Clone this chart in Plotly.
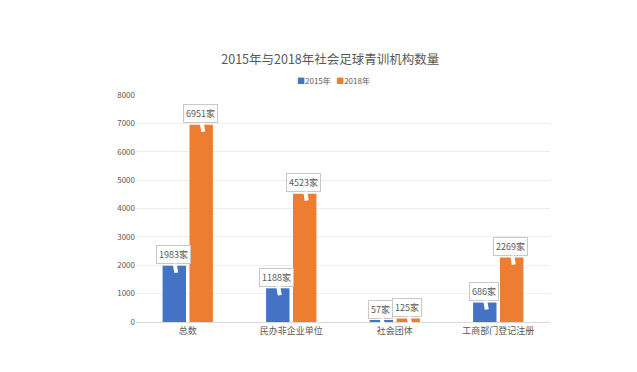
import plotly.graph_objects as go

categories = ["总数", "民办非企业单位", "社会团体", "工商部门登记注册"]
values_2015 = [1983, 1188, 57, 686]
values_2018 = [6951, 4523, 125, 2269]
series_names = ["2015年", "2018年"]
y_ticks = [0, 1000, 2000, 3000, 4000, 5000, 6000, 7000, 8000]

colors = ["#4472C4", "#ED7D31"]
font = "Noto Sans CJK SC, Noto Sans, sans-serif"

fig = go.Figure()
for name, vals, c in zip(series_names, [values_2015, values_2018], colors):
    fig.add_trace(go.Bar(x=categories, y=vals, name=name, marker_color=c,
                         marker_line_width=0, showlegend=False))

annotations = []
for vals, shift in [(values_2015, -13.5), (values_2018, 13.5)]:
    for cat, v in zip(categories, vals):
        annotations.append(dict(
            x=cat, y=v, xref="x", yref="y", xshift=shift + 2, yshift=-7,
            text=f"{v}家", showarrow=True, arrowhead=0, arrowcolor="white",
            arrowwidth=4, ax=-3, ay=-18, standoff=0, startstandoff=0,
            bgcolor="white", bordercolor="#c8c8c8", borderwidth=1, borderpad=2,
            font=dict(size=9, color="#595959", family=font)))

# legend drawn as text entries
legend_text = "   ".join(
    f'<span style="color:{c}">■</span>{n}' for n, c in zip(series_names, colors))
annotations.append(dict(
    x=0.476, y=1.066, xref="paper", yref="paper", xanchor="center", yanchor="middle",
    text=legend_text, showarrow=False,
    font=dict(size=8, color="#595959", family=font)))

fig.update_layout(
    width=621, height=356,
    paper_bgcolor="white", plot_bgcolor="white",
    margin=dict(l=128, r=79, t=87, b=42),
    barmode="group", bargap=0.48, bargroupgap=0.13,
    title=dict(text="2015年与2018年社会足球青训机构数量", x=0.519, xanchor="center",
               y=0.854, yanchor="middle",
               font=dict(size=12.5, color="#595959", family=font)),
    showlegend=False,
    annotations=annotations,
    xaxis=dict(showgrid=False, showline=True, linecolor="#d9d9d9", linewidth=1,
               tickfont=dict(size=9, color="#595959", family=font), ticks=""),
    yaxis=dict(range=[0, 8000], tickvals=y_ticks, showgrid=True, gridcolor="#eeeeee",
               zeroline=False, showline=False, ticks="",
               tickfont=dict(size=8, color="#595959", family=font)),
)

fig.write_html("out.html")
